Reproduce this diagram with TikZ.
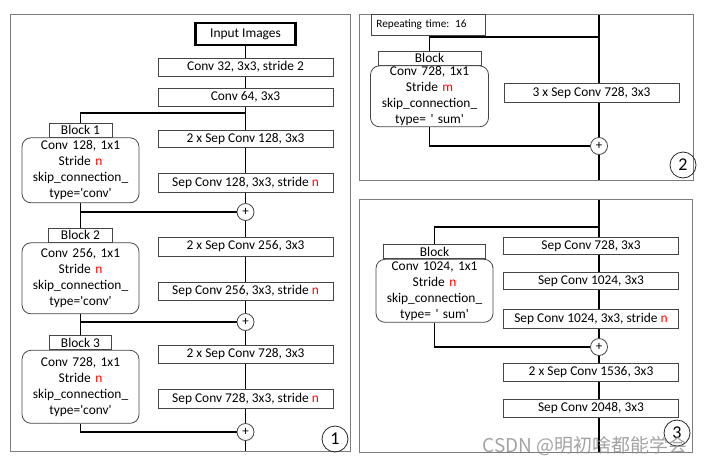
\documentclass[tikz,border=0pt]{standalone}
\usepackage{fontspec}
\setmainfont{Carlito}
\newfontfamily\cjkfont{Noto Sans CJK SC}
\usepackage{tikz}
\usetikzlibrary{calc}
\usetikzlibrary{backgrounds}
\definecolor{framegray}{RGB}{125,125,125}
\definecolor{boxgray}{RGB}{70,70,70}
\newcommand{\rd}[1]{\textcolor{red}{#1}}
\newcommand{\convbox}[4]{\node[layerbox, minimum height=#3] (#1) at (#2) {#4};}
\newcommand{\tabbox}[4]{\node[blocktab, minimum width=#3] (#1) at (#2) {#4};}

\tikzset{
  txt/.style={font=\fontsize{13.4}{16}\selectfont},
  layerbox/.style={txt, draw=boxgray, line width=0.8pt, fill=white, minimum width=175pt, inner sep=0pt},
  blocktab/.style={txt, draw=boxgray, line width=0.8pt, fill=white, minimum height=14pt, inner sep=0pt},
  blockbody/.style={txt, draw=boxgray, line width=0.8pt, fill=white, rounded corners=9pt, align=center, text width=110pt, inner xsep=3.5pt, inner ysep=0pt, anchor=north},
  sum/.style={circle, draw=boxgray, line width=0.8pt, fill=white, minimum size=17pt, inner sep=0pt, font=\fontsize{13}{13}\selectfont},
  trunk/.style={line width=1.7pt},
  panel/.style={draw=framegray, line width=1pt},
  tag/.style={circle, draw=black!85, line width=0.8pt, minimum size=26pt, inner sep=0pt, font=\fontsize{18}{18}\selectfont}
}

\begin{document}
\begin{tikzpicture}[x=1pt, y=-1pt]
        \useasboundingbox (0,0) rectangle (708,466);
        % panel 1
        \draw[panel] (10,14) rectangle (350,451);
        \coordinate (end1) at (245.5,451);
        \coordinate (s1) at (245.5,113);
        \node[txt, draw, line width=2.4pt, minimum width=100pt, minimum height=22pt, inner sep=0pt] (input) at (245.5,34) {Input Images};
        \convbox{c32}{245.5,67}{18pt}{Conv 32, 3x3, stride 2}
        \convbox{c64}{245.5,97}{18pt}{Conv 64, 3x3}
        \convbox{sep128a}{245.5,138.5}{17pt}{2 x Sep Conv 128, 3x3}
        \convbox{sep128b}{245.5,182.5}{19pt}{Sep Conv 128, 3x3, stride \rd{n}}
        \convbox{sep256a}{245.5,246.5}{19pt}{2 x Sep Conv 256, 3x3}
        \convbox{sep256b}{245.5,291}{18pt}{Sep Conv 256, 3x3, stride \rd{n}}
        \convbox{sep728a}{245.5,354}{18pt}{2 x Sep Conv 728, 3x3}
        \convbox{sep728b}{245.5,398.5}{19pt}{Sep Conv 728, 3x3, stride \rd{n}}
        \node[sum] (p1) at (245.5,212) {+};
        \node[sum] (p2) at (245.5,322) {+};
        \node[sum] (p3) at (245.5,432) {+};
        % block 1
        \tabbox{tab1}{80.5,130}{63pt}{Block 1}
        \node[blockbody, minimum height=65pt] (body1) at (tab1.south) {Conv 128, 1x1\\Stride \rd{n}\\skip\_connection\_\\type=\textquotesingle conv\textquotesingle};
        % block 2
        \tabbox{tab2}{80.5,235}{64pt}{Block 2}
        \node[blockbody, minimum height=71pt] (body2) at (tab2.south) {Conv 256, 1x1\\Stride \rd{n}\\skip\_connection\_\\type=\textquotesingle conv\textquotesingle};
        % block 3
        \tabbox{tab3}{80.5,342.5}{62pt}{Block 3}
        \node[blockbody, minimum height=73pt] (body3) at (tab3.south) {Conv 728, 1x1\\Stride \rd{n}\\skip\_connection\_\\type=\textquotesingle conv\textquotesingle};
        \node[tag] (tag1) at (335,439) {1};
        \begin{scope}[on background layer]
            \draw[trunk] (input) -- (c32) -- (c64) -- (sep128a) -- (sep128b) -- (p1) -- (sep256a) -- (sep256b) -- (p2) -- (sep728a) -- (sep728b) -- (p3) -- (end1);
            \draw[trunk] (s1) -| (tab1);
            \draw[trunk] (body1) |- (p1);
            \draw[trunk] (body1) -- (tab2);
            \draw[trunk] (body2) |- (p2);
            \draw[trunk] (body2) -- (tab3);
            \draw[trunk] (body3) |- (p3);
        \end{scope}
        % panel 2
        \draw[panel] (359,14) rectangle (693,180);
        \coordinate (top2) at (599,14);
        \coordinate (end2) at (599,180);
        \coordinate (s2) at (599,37);
        \node[draw=boxgray, line width=0.8pt, fill=white, anchor=north west, text width=104pt, minimum height=21pt, inner xsep=5pt, inner ysep=0pt, align=left, font=\fontsize{11.2}{13}\selectfont] (repeat) at (371,14) {Repeating time: 16};
        \convbox{sep3x}{591.5,92.5}{19pt}{3 x Sep Conv 728, 3x3}
        \node[sum] (p4) at (599,146) {+};
        \tabbox{tab4}{429.5,58}{103pt}{Block}
        \node[blockbody, minimum height=61pt, text width=111pt] (body4) at (tab4.south) {Conv 728, 1x1\\Stride \rd{m}\\skip\_connection\_\\type= \textquotesingle\ sum\textquotesingle};
        \node[tag] (tag2) at (683,165) {2};
        \begin{scope}[on background layer]
            \draw[trunk] (top2) -- (p4) -- (end2);
            \draw[trunk] (s2) -| (tab4);
            \draw[trunk] (body4) |- (p4);
        \end{scope}
        % panel 3
        \draw[panel] (359,199) rectangle (692,452);
        \coordinate (top3) at (599,199);
        \coordinate (end3) at (599,452);
        \coordinate (s3) at (599,227);
        \convbox{exit728}{591,245.5}{17pt}{Sep Conv 728, 3x3}
        \convbox{exit1024a}{591,281}{17pt}{Sep Conv 1024, 3x3}
        \convbox{exit1024b}{591,318.5}{19pt}{Sep Conv 1024, 3x3, stride \rd{n}}
        \node[sum] (p5) at (599,347) {+};
        \convbox{exit1536}{591,372}{18pt}{2 x Sep Conv 1536, 3x3}
        \convbox{exit2048}{591,408}{18pt}{Sep Conv 2048, 3x3}
        \tabbox{tab5}{434.5,251.5}{102pt}{Block}
        \node[blockbody, minimum height=63pt] (body5) at (tab5.south) {Conv 1024, 1x1\\Stride \rd{n}\\skip\_connection\_\\type= \textquotesingle\ sum\textquotesingle};
        \node[tag] (tag3) at (677,433) {3};
        \begin{scope}[on background layer]
            \draw[trunk] (top3) -- (p5) -- (end3);
            \draw[trunk] (s3) -| (tab5);
            \draw[trunk] (body5) |- (p5);
        \end{scope}
        % watermark
        \node[text=black!45, opacity=0.8, font=\cjkfont\fontsize{19}{19}\selectfont] (mark) at (585,446) {CSDN @明初啥都能学会};
    \end{tikzpicture}
\end{document}
